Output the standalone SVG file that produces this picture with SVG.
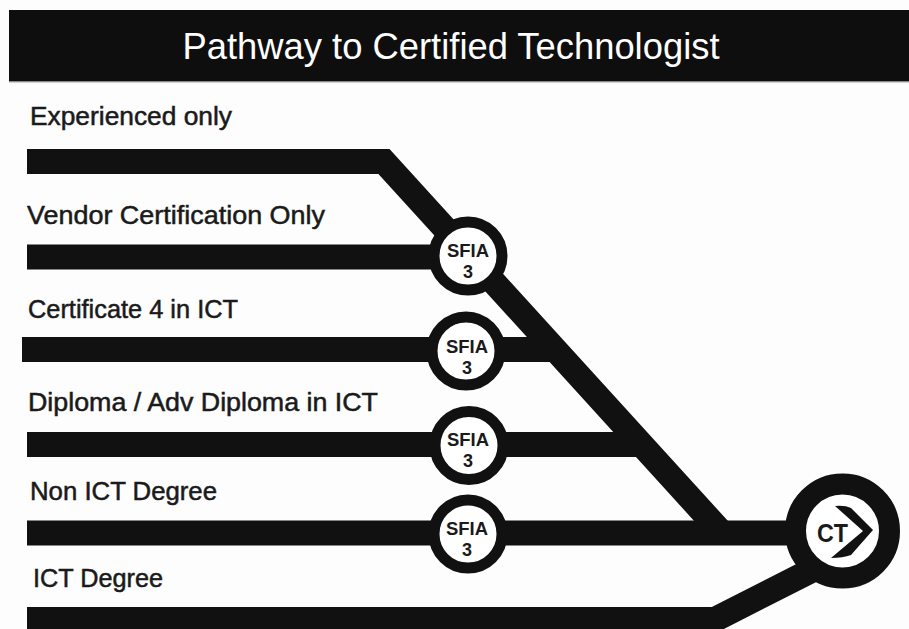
<svg xmlns="http://www.w3.org/2000/svg" width="909" height="629" viewBox="0 0 909 629">
  <defs>
    <linearGradient id="hdrShadow" x1="0" y1="0" x2="0" y2="1">
      <stop offset="0" stop-color="#555"/>
      <stop offset="1" stop-color="#fff" stop-opacity="0"/>
    </linearGradient>
  </defs>
  <style>
    .track { fill: none; stroke: #111; stroke-width: 25; stroke-linejoin: miter; stroke-linecap: butt; }
    .label { font-family: "Liberation Sans", Arial, sans-serif; font-size: 25px; fill: #1a1a1a; stroke: #1a1a1a; stroke-width: 0.5; }
    .title { font-family: "Liberation Sans", Arial, sans-serif; font-size: 36px; fill: #ffffff; }
    .sfia-ring { fill: #fff; stroke: #111; stroke-width: 11; }
    .ct-ring { fill: #fff; stroke: #111; stroke-width: 21; }
    .sfia-text { font-family: "Liberation Sans", Arial, sans-serif; font-size: 18px; font-weight: bold; fill: #1a1a1a; text-anchor: middle; }
    .ct-text { font-family: "Liberation Sans", Arial, sans-serif; font-size: 26px; font-weight: bold; fill: #1a1a1a; }
  </style>

  <rect x="0" y="0" width="909" height="629" fill="#fdfdfd"/>

  <g id="header">
    <rect x="9" y="10" width="900" height="71" fill="#0e0e0e"/>
    <rect x="9" y="81" width="900" height="3" fill="url(#hdrShadow)"/>
    <text class="title" x="451" y="59" text-anchor="middle" textLength="537" lengthAdjust="spacingAndGlyphs">Pathway to Certified Technologist</text>
  </g>

  <g id="labels">
    <text class="label" x="30" y="125" textLength="202" lengthAdjust="spacingAndGlyphs">Experienced only</text>
    <text class="label" x="27" y="224" textLength="298" lengthAdjust="spacingAndGlyphs">Vendor Certification Only</text>
    <text class="label" x="28" y="318" textLength="210" lengthAdjust="spacingAndGlyphs">Certificate 4 in ICT</text>
    <text class="label" x="28" y="411" textLength="350" lengthAdjust="spacingAndGlyphs">Diploma / Adv Diploma in ICT</text>
    <text class="label" x="30" y="500" textLength="187" lengthAdjust="spacingAndGlyphs">Non ICT Degree</text>
    <text class="label" x="33" y="587" textLength="130" lengthAdjust="spacingAndGlyphs">ICT Degree</text>
  </g>

  <g id="connectors">
    <path class="track" d="M27,161.5 H384 L722,533"/>
    <path class="track" d="M27,257 H468"/>
    <path class="track" d="M22,349.5 H555"/>
    <path class="track" d="M27,444.5 H641"/>
    <path class="track" d="M27,533 H830"/>
    <path class="track" d="M27,619.5 H715 L830,561"/>
  </g>

  <g id="sfia-vendor">
    <circle class="sfia-ring" cx="468" cy="256" r="34"/>
    <text class="sfia-text" x="468" y="257" textLength="42" lengthAdjust="spacingAndGlyphs">SFIA</text>
    <text class="sfia-text" x="468" y="278">3</text>
  </g>
  <g id="sfia-cert4">
    <circle class="sfia-ring" cx="466" cy="351" r="34"/>
    <text class="sfia-text" x="467" y="353" textLength="42" lengthAdjust="spacingAndGlyphs">SFIA</text>
    <text class="sfia-text" x="467" y="374">3</text>
  </g>
  <g id="sfia-diploma">
    <circle class="sfia-ring" cx="469" cy="445.5" r="34"/>
    <text class="sfia-text" x="468" y="446" textLength="42" lengthAdjust="spacingAndGlyphs">SFIA</text>
    <text class="sfia-text" x="468" y="467">3</text>
  </g>
  <g id="sfia-nonict">
    <circle class="sfia-ring" cx="468" cy="534" r="34"/>
    <text class="sfia-text" x="467" y="535" textLength="42" lengthAdjust="spacingAndGlyphs">SFIA</text>
    <text class="sfia-text" x="467" y="556">3</text>
  </g>

  <g id="ct">
    <circle class="ct-ring" cx="842.5" cy="531" r="47"/>
    <text class="ct-text" x="817" y="542" textLength="31" lengthAdjust="spacingAndGlyphs">CT</text>
    <path d="M835,506 Q845,505 851,508 L873,530 L851,555 Q843,558 831,558 L863,531 Z" fill="#111"/>
  </g>
</svg>
